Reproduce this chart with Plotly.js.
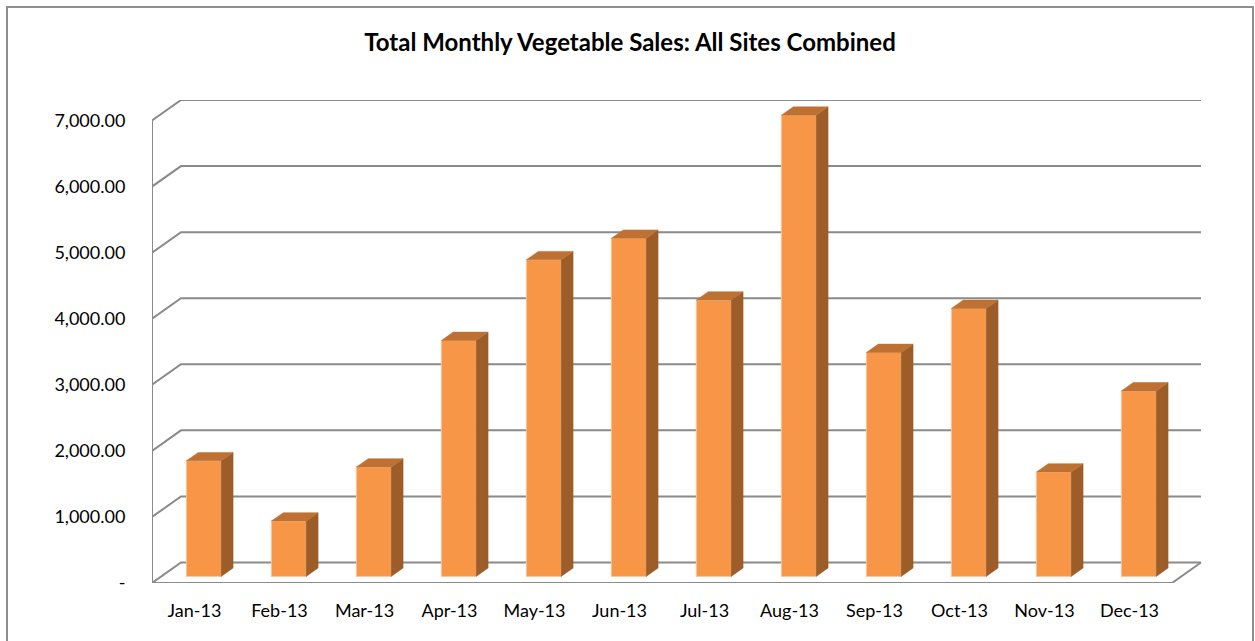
<!DOCTYPE html>
<html>
<head>
<meta charset="utf-8">
<script src="https://cdn.plot.ly/plotly-3.0.1.min.js"></script>
<style>
  html, body { margin: 0; padding: 0; background: #ffffff; }
  #wrap { position: relative; width: 1255px; height: 641px; overflow: hidden; }
  #chart { width: 1255px; height: 641px; }
  #frame { position: absolute; left: 6px; top: 6px; width: 1248px; height: 660px;
           border: 2px solid #8e8e8e; box-sizing: border-box; pointer-events: none; }
</style>
</head>
<body>
<div id="wrap"><div id="chart"></div><div id="frame"></div></div>
<script>
// ---- data ----
const months = ['Jan-13', 'Feb-13', 'Mar-13', 'Apr-13', 'May-13', 'Jun-13',
                'Jul-13', 'Aug-13', 'Sep-13', 'Oct-13', 'Nov-13', 'Dec-13'];
const sales = [1750, 838, 1656, 3571, 4792, 5117, 4182, 6980, 3389, 4056, 1580, 2808];
const yTickVals = [0, 1000, 2000, 3000, 4000, 5000, 6000, 7000];
const yTickText = ['-', '1,000.00', '2,000.00', '3,000.00', '4,000.00', '5,000.00', '6,000.00', '7,000.00'];

// ---- 3D look (style constants) ----
const WALL_DX = 0.341;   // depth of the wall, in category units
const WALL_DY = 310;     // depth of the wall, in value units
const BAR_Z0 = 0.32;     // front face of a bar, as fraction of wall depth
const BAR_ZD = 0.41;     // depth of a bar, as fraction of wall depth
const BAR_W = 0.41;      // bar width, in category units
const GRID_COLOR = '#8a8a8a';
const FRONT = '#F79646', TOP = '#BE7132', SIDE = '#9C5D29', EDGE = '#FAC69C';

const idx = months.map((m, i) => i);
const nCat = months.length;
const yMax = yTickVals[yTickVals.length - 1];

// gridlines + floor + axis as shapes (drawn behind bars)
const shapes = [];
const gl = { color: GRID_COLOR, width: 2 };
yTickVals.forEach(t => {
  shapes.push({ type: 'path', xref: 'x', yref: 'y', layer: 'below', line: gl,
    path: `M ${-0.5} ${t} L ${-0.5 + WALL_DX} ${t + WALL_DY} L ${nCat - 0.5 + WALL_DX} ${t + WALL_DY}` });
});
// floor front and right edges
shapes.push({ type: 'path', xref: 'x', yref: 'y', layer: 'below', line: gl,
  path: `M ${-0.5} 0 L ${nCat - 0.5} 0 L ${nCat - 0.5 + WALL_DX} ${WALL_DY}` });
// front vertical axis line
shapes.push({ type: 'path', xref: 'x', yref: 'y', layer: 'below', line: gl,
  path: `M ${-0.5} 0 L ${-0.5} ${yMax}` });

// bar geometry from data
const sx = BAR_Z0 * WALL_DX, sy = BAR_Z0 * WALL_DY;
const ddx = BAR_ZD * WALL_DX, ddy = BAR_ZD * WALL_DY;
const base = idx.map(() => sy);
const xFront = idx.map(i => i + sx);

const sideX = [], sideY = [], topX = [], topY = [];
idx.forEach(i => {
  const xl = i + sx - BAR_W / 2, xr = i + sx + BAR_W / 2;
  const b = sy, h = sy + sales[i];
  sideX.push(xr, xr + ddx, xr + ddx, xr, xr, null);
  sideY.push(b, b + ddy, h + ddy, h, b, null);
  topX.push(xl, xl + ddx, xr + ddx, xr, xl, null);
  topY.push(h, h + ddy, h + ddy, h, h, null);
});

const data = [
  { type: 'bar', x: xFront, y: sales, base: base, width: BAR_W,
    marker: { color: FRONT, line: { color: EDGE, width: 1 } },
    hoverinfo: 'skip', showlegend: false },
  { type: 'scatter', mode: 'lines', x: sideX, y: sideY, fill: 'toself',
    fillcolor: SIDE, line: { color: SIDE, width: 0.5 }, hoverinfo: 'skip',
    showlegend: false, cliponaxis: false },
  { type: 'scatter', mode: 'lines', x: topX, y: topY, fill: 'toself',
    fillcolor: TOP, line: { color: TOP, width: 0.5 }, hoverinfo: 'skip',
    showlegend: false, cliponaxis: false }
];

const layout = {
  width: 1255, height: 641,
  paper_bgcolor: '#ffffff', plot_bgcolor: 'rgba(0,0,0,0)',
  margin: { l: 152, r: 53, t: 100, b: 58 },
  font: { family: 'Lato, "Noto Sans", sans-serif', size: 18, color: '#000000' },
  title: { text: 'Total Monthly Vegetable Sales: All Sites Combined',
           font: { family: 'Lato, "Noto Sans", sans-serif', size: 24, color: '#000000', weight: 'bold' },
           x: 0.502, xanchor: 'center', xref: 'container', y: 0.933, yref: 'container', yanchor: 'middle' },
  xaxis: { range: [-0.5, nCat - 0.5 + WALL_DX + 0.012], tickvals: idx, ticktext: months,
           showgrid: false, zeroline: false, showline: false,
           ticks: 'outside', ticklen: 11, tickcolor: 'rgba(0,0,0,0)', fixedrange: true },
  yaxis: { range: [0, yMax + WALL_DY], tickvals: yTickVals, ticktext: yTickText,
           showgrid: false, zeroline: false, showline: false,
           ticks: 'outside', ticklen: 22, tickcolor: 'rgba(0,0,0,0)', fixedrange: true },
  shapes: shapes,
  bargap: 0
};

Plotly.newPlot('chart', data, layout, { displayModeBar: false, staticPlot: true });
</script>
</body>
</html>
